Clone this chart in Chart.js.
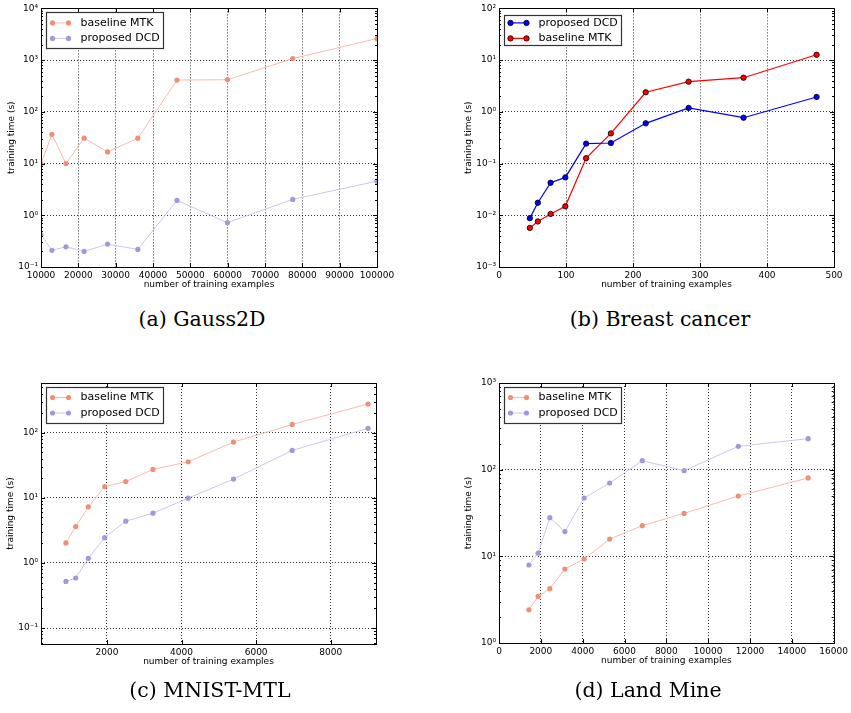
<!doctype html>
<html lang="en">

<head>
    <meta charset="utf-8">
    <title>training time</title>
    <script src="https://cdn.jsdelivr.net/npm/chart.js@4"></script>
    <style type="text/css">
        body,
        html {
            margin: 0;
            padding: 0;
            background: #fff;
            width: 851px;
            height: 713px;
            overflow: hidden;
        }

        canvas {
            position: absolute;
        }

        .caption {
            position: absolute;
            width: 300px;
            text-align: center;
            font-family: "DejaVu Serif";
            font-size: 20.5px;
            line-height: 24px;
            color: #000;
        }
    </style>
</head>

<body>
    <canvas id="gauss" width="420" height="300" style="left:0;top:0"></canvas>
    <canvas id="breast" width="431" height="300" style="left:420px;top:0"></canvas>
    <canvas id="mnist" width="420" height="320" style="left:0;top:360px"></canvas>
    <canvas id="land" width="431" height="320" style="left:420px;top:360px"></canvas>
    <div class="caption" style="left:52px;top:307px">(a) Gauss2D</div>
    <div class="caption" style="left:510px;top:307px">(b) Breast cancer</div>
    <div class="caption" style="left:60px;top:678px">(c) MNIST-MTL</div>
    <div class="caption" style="left:498px;top:678px">(d) Land Mine</div>
    <script>
        // (a) Gauss2D
        const gaussX = [10000, 12915, 16681, 21544, 27826, 35938, 46416, 59948, 77426, 100000];
        const gaussMTK = [10, 36.7, 10, 31, 16.8, 31, 412, 418, 1070, 2610];
        const gaussDCD = [0.42, 0.21, 0.246, 0.2, 0.277, 0.219, 1.94, 0.72, 2.03, 4.57];
        const gaussXTicks = [10000, 20000, 30000, 40000, 50000, 60000, 70000, 80000, 90000, 100000];
        const gaussYTicks = [0.1, 1, 10, 100, 1000, 10000];

        // (b) Breast cancer
        const breastX = [46, 58, 77, 99, 130, 167, 219, 283, 365, 474];
        const breastDCD = [0.0088, 0.0175, 0.0425, 0.054, 0.243, 0.25, 0.6, 1.19, 0.77, 1.94];
        const breastMTK = [0.0057, 0.0076, 0.0106, 0.0149, 0.127, 0.383, 2.39, 3.83, 4.57, 12.7];
        const breastXTicks = [0, 100, 200, 300, 400, 500];
        const breastYTicks = [0.001, 0.01, 0.1, 1, 10, 100];

        // (c) MNIST-MTL
        const mnistX = [900, 1162, 1501, 1939, 2504, 3234, 4177, 5394, 6967, 9000];
        const mnistMTK = [2.03, 3.62, 7.27, 14.9, 17.8, 27.3, 35.8, 71.8, 134, 276];
        const mnistDCD = [0.52, 0.588, 1.18, 2.45, 4.38, 5.81, 9.88, 19.4, 53.5, 117];
        const mnistXTicks = [2000, 4000, 6000, 8000];
        const mnistYTicks = [0.1, 1, 10, 100];

        // (d) Land Mine
        const landX = [1430, 1870, 2430, 3150, 4070, 5290, 6850, 8850, 11440, 14780];
        const landMTK = [2.42, 3.45, 4.24, 7.14, 9.31, 15.8, 22.6, 31.3, 49.7, 80.2];
        const landDCD = [7.94, 10.9, 27.9, 19.3, 47.1, 70.2, 127, 97.4, 186, 228];
        const landXTicks = [0, 2000, 4000, 6000, 8000, 10000, 12000, 14000, 16000];
        const landYTicks = [1, 10, 100, 1000];

        const sup = { "0": "⁰", "1": "¹", "2": "²", "3": "³", "4": "⁴", "5": "⁵", "6": "⁶", "7": "⁷", "8": "⁸", "9": "⁹", "-": "⁻" };
        const tickFont = { family: "DejaVu Sans", size: 9 };

        function powLabel(v) {
            const e = Math.round(Math.log10(v));
            return "10" + String(e).split("").map(c => sup[c]).join("");
        }

        function points(xs, ys) {
            return xs.map((x, i) => ({ x: x, y: ys[i] }));
        }

        // matplotlib style box with inward ticks (log minors on y)
        const framePlugin = {
            id: "frame",
            afterDraw(chart) {
                const { ctx, chartArea: a } = chart;
                const x = chart.scales.x, y = chart.scales.y;
                ctx.save();
                ctx.strokeStyle = "#000";
                ctx.lineWidth = 1;
                ctx.beginPath();
                x.ticks.forEach(t => {
                    const px = Math.round(x.getPixelForValue(t.value)) + 0.5;
                    ctx.moveTo(px, a.bottom);
                    ctx.lineTo(px, a.bottom - 4);
                    ctx.moveTo(px, a.top);
                    ctx.lineTo(px, a.top + 4);
                });
                const lo = Math.floor(Math.log10(y.min)), hi = Math.ceil(Math.log10(y.max));
                for (let e = lo; e <= hi; e++) {
                    for (let m = 1; m < 10; m++) {
                        const v = m * Math.pow(10, e);
                        if (v < y.min * 0.999 || v > y.max * 1.001) continue;
                        const py = Math.round(y.getPixelForValue(v)) + 0.5;
                        const len = m === 1 ? 4 : 2;
                        ctx.moveTo(a.left, py);
                        ctx.lineTo(a.left + len, py);
                        ctx.moveTo(a.right, py);
                        ctx.lineTo(a.right - len, py);
                    }
                }
                ctx.stroke();
                ctx.strokeRect(Math.round(a.left) + 0.5, Math.round(a.top) + 0.5,
                    Math.round(a.right - a.left), Math.round(a.bottom - a.top));
                ctx.restore();
            }
        };

        // legend box inside the plot, upper left
        const boxLegend = {
            id: "boxLegend",
            afterDraw(chart, args, opts) {
                const { ctx, chartArea: a } = chart;
                const sets = chart.data.datasets;
                ctx.save();
                ctx.font = '11px "DejaVu Sans"';
                const textW = Math.max(...sets.map(d => ctx.measureText(d.label).width));
                const bx = Math.round(a.left + opts.dx) + 0.5, by = Math.round(a.top + opts.dy) + 0.5;
                const bw = Math.round(34 + textW + 4);
                ctx.fillStyle = "#fff";
                ctx.fillRect(bx, by, bw, opts.h);
                ctx.strokeStyle = "#333";
                ctx.lineWidth = 1.2;
                ctx.strokeRect(bx, by, bw, opts.h);
                sets.forEach((d, i) => {
                    const ry = a.top + opts.rows[i];
                    ctx.strokeStyle = d.borderColor;
                    ctx.lineWidth = d.borderWidth;
                    ctx.beginPath();
                    ctx.moveTo(bx + 6, ry);
                    ctx.lineTo(bx + 22, ry);
                    ctx.stroke();
                    [bx + 6, bx + 22].forEach(cx => {
                        ctx.beginPath();
                        ctx.arc(cx, ry, d.pointRadius, 0, Math.PI * 2);
                        ctx.fillStyle = d.pointBackgroundColor;
                        ctx.fill();
                        if (d.pointBorderWidth) {
                            ctx.lineWidth = d.pointBorderWidth;
                            ctx.strokeStyle = d.pointBorderColor;
                            ctx.stroke();
                        }
                    });
                    ctx.fillStyle = "#000";
                    ctx.textBaseline = "middle";
                    ctx.fillText(d.label, bx + 34, ry);
                });
                ctx.restore();
            }
        };

        function lightSet(label, xs, ys, point, line) {
            return {
                label: label,
                data: points(xs, ys),
                borderColor: line,
                borderWidth: 1,
                pointRadius: 2.6,
                pointBackgroundColor: point,
                pointBorderColor: point,
                pointBorderWidth: 0,
                tension: 0,
            };
        }

        function strongSet(label, xs, ys, color) {
            return {
                label: label,
                data: points(xs, ys),
                borderColor: color,
                borderWidth: 1.2,
                pointRadius: 2.7,
                pointBackgroundColor: color,
                pointBorderColor: "#000",
                pointBorderWidth: 0.8,
                tension: 0,
            };
        }

        function makePanel(id, datasets, xr, xTicks, yr, yTicks, pad, yW, legend) {
            new Chart(document.getElementById(id), {
                type: "line",
                data: { datasets: datasets },
                plugins: [framePlugin, boxLegend],
                options: {
                    responsive: false,
                    animation: false,
                    devicePixelRatio: 1,
                    events: [],
                    layout: { padding: pad },
                    plugins: {
                        legend: { display: false },
                        tooltip: { enabled: false },
                        boxLegend: legend,
                    },
                    scales: {
                        x: {
                            type: "linear",
                            min: xr[0],
                            max: xr[1],
                            afterBuildTicks: s => { s.ticks = xTicks.map(v => ({ value: v })); },
                            afterFit: s => { s.height = 23; },
                            ticks: { font: tickFont, color: "#000", padding: 3, maxRotation: 0, autoSkip: false, callback: v => String(v) },
                            grid: { color: "rgba(0,0,0,0.8)", lineWidth: 1, drawTicks: false },
                            border: { display: false, dash: [1, 2] },
                            title: { display: true, text: "number of training examples", font: tickFont, color: "#000", padding: 0 },
                        },
                        y: {
                            type: "logarithmic",
                            min: yr[0],
                            max: yr[1],
                            afterBuildTicks: s => { s.ticks = yTicks.map(v => ({ value: v })); },
                            afterFit: s => { s.width = yW; },
                            ticks: { font: tickFont, color: "#000", padding: 3, autoSkip: false, callback: v => powLabel(v) },
                            grid: { color: "rgba(0,0,0,0.8)", lineWidth: 1, drawTicks: false },
                            border: { display: false, dash: [1, 2] },
                            title: { display: true, text: "training time (s)", font: tickFont, color: "#000", padding: 0 },
                        },
                    },
                },
            });
        }

        const mtkPoint = "#ee9078", mtkLine = "#f7bcad";
        const dcdPoint = "#a29ad8", dcdLine = "#cbc6ec";
        const legendLight = { dx: 4.5, dy: 3.5, h: 36, rows: [14.5, 30] };

        makePanel("gauss", [
                lightSet("baseline MTK", gaussX, gaussMTK, mtkPoint, mtkLine),
                lightSet("proposed DCD", gaussX, gaussDCD, dcdPoint, dcdLine),
            ], [10000, 100000], gaussXTicks, [0.1, 10000], gaussYTicks,
            { left: 6, top: 7, right: 43, bottom: 10 }, 35, legendLight);

        makePanel("breast", [
                strongSet("proposed DCD", breastX, breastDCD, "#0000ff"),
                strongSet("baseline MTK", breastX, breastMTK, "#ff0000"),
            ], [0, 500], breastXTicks, [0.001, 100], breastYTicks,
            { left: 43, top: 7, right: 17, bottom: 10 }, 36, { dx: 4.5, dy: 6.5, h: 30, rows: [14.5, 30] });

        makePanel("mnist", [
                lightSet("baseline MTK", mnistX, mnistMTK, mtkPoint, mtkLine),
                lightSet("proposed DCD", mnistX, mnistDCD, dcdPoint, dcdLine),
            ], [232, 9214], mnistXTicks, [0.057, 580], mnistYTicks,
            { left: 5, top: 23, right: 44, bottom: 13 }, 36, legendLight);

        makePanel("land", [
                lightSet("baseline MTK", landX, landMTK, mtkPoint, mtkLine),
                lightSet("proposed DCD", landX, landDCD, dcdPoint, dcdLine),
            ], [0, 16000], landXTicks, [1, 1000], landYTicks,
            { left: 43, top: 23, right: 17, bottom: 14 }, 36, legendLight);
    </script>
</body>

</html>
